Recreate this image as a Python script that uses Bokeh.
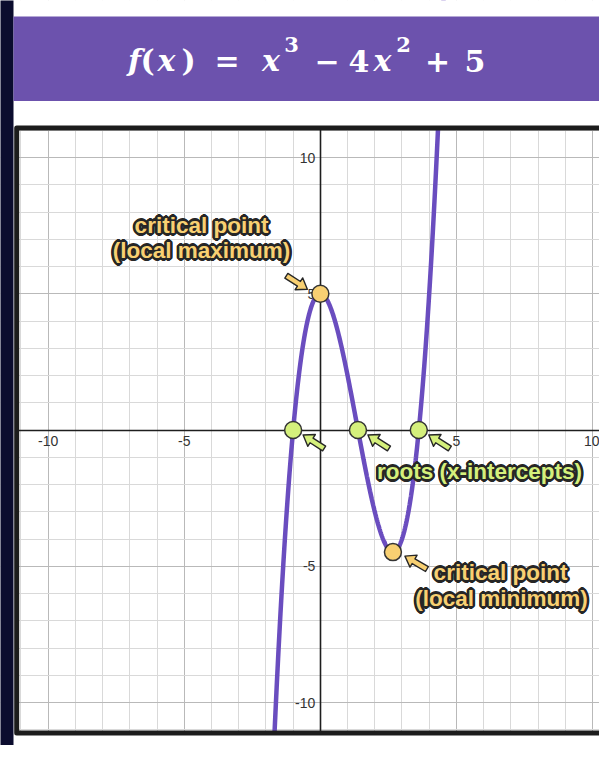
import math
import numpy as np
from bokeh.plotting import figure
from bokeh.models import Range1d, FixedTicker
from bokeh.core.properties import value
from bokeh.embed import file_html
from bokeh.resources import INLINE

# ---------------- chart content ----------------
poly_coeffs = [1, -4, 0, 5]            # f(x) = x^3 - 4x^2 + 5 (from the title)
curve_domain = [-2.0, 5.0]
root_x = [-1.0, 1.382, 3.618]
root_y = [0.0, 0.0, 0.0]
crit_x = [0.0, 2.667]
crit_y = [5.0, -4.481]
x_ticks = [-10, -5, 5, 10]
x_tick_labels = ["-10", "-5", "5", "10"]
y_ticks = [-10, -5, 5, 10]
y_tick_labels = ["-10", "-5", "5", "10"]
max_label = ["critical point", "(local maximum)"]
min_label = ["critical point", "(local minimum)"]
roots_label = ["roots (x-intercepts)"]
title_parts = ["f", "(", "x", ")", "=", "x", "3", "\u2212", "4", "x", "2", "+", "5"]

# ---------------- layout / styles ----------------
W, H = 599, 745
M = 8
X0, Y0 = 327.85, 437.5       # reference pixel of the origin
SX, SY = 27.215, 27.25       # pixels per unit


def fx(X):
    return (X - X0) / SX


def fy(Y):
    return (Y0 - Y) / SY


xs, xe = fx(M), fx(M + W)
ys, ye = fy(M + H), fy(M)

NAVY = "#0b0c2e"
PURPLE_BAND = "#6c52ad"
CURVE = "#6a4dbf"
YELLOW = "#f8d072"
GREEN = "#d5f07c"
DARK = "#262626"

CARD_LEFT = 21.0
BAND_TOP, BAND_BOT = 24.0, 108.5
BOX_LEFT, BOX_TOP, BOX_BOT = 24.2, 135.5, 740.5

p = figure(width=W, height=H, x_range=Range1d(xs, xe), y_range=Range1d(ys, ye),
           output_backend="svg", toolbar_location=None, min_border=0)
p.outline_line_color = None
p.background_fill_color = "white"
p.border_fill_color = "white"

# grid
minor = [i for i in range(-12, 12) if i % 5 != 0]
major = [-10, -5, 5, 10]
for g in (p.xgrid, p.ygrid):
    g.ticker = FixedTicker(ticks=major, minor_ticks=minor)
    g.grid_line_color = "#b9b9b9"
    g.grid_line_width = 1
    g.minor_grid_line_color = "#d9d9d9"
    g.minor_grid_line_width = 1
    g.level = "image"

# axes through the origin
for ax, ticks, labels in ((p.xaxis[0], x_ticks, x_tick_labels), (p.yaxis[0], y_ticks, y_tick_labels)):
    ax.fixed_location = 0
    ax.ticker = FixedTicker(ticks=ticks)
    ax.major_label_overrides = {t: s for t, s in zip(ticks, labels)}
    ax.axis_line_color = "#1e1e1e"
    ax.axis_line_width = 1.6
    ax.major_tick_in = 0
    ax.major_tick_out = 0
    ax.minor_tick_in = 0
    ax.minor_tick_out = 0
    ax.major_label_text_font = "Liberation Sans"
    ax.major_label_text_font_size = "14px"
    ax.major_label_text_color = "#333333"
    ax.level = "underlay"
p.xaxis[0].bounds = (fx(BOX_LEFT), xe + 1)
p.yaxis[0].bounds = (fy(BOX_BOT), fy(BOX_TOP))
p.xaxis[0].major_label_standoff = 6
p.yaxis[0].major_label_standoff = 5

# curve
cx = np.linspace(curve_domain[0], curve_domain[1], 800)
cy = np.polyval(poly_coeffs, cx)
p.line(cx, cy, line_color=CURVE, line_width=4.5, line_cap="round")

# card / masks outside the plot box
p.quad(left=[xs - 1], right=[xe + 1], bottom=[fy(BOX_TOP)], top=[ye + 1],
       fill_color="white", line_color=None)
p.quad(left=[xs - 1], right=[xe + 1], bottom=[ys - 1], top=[fy(BOX_BOT)],
       fill_color="white", line_color=None)
p.quad(left=[xs - 1], right=[fx(BOX_LEFT)], bottom=[ys - 1], top=[ye + 1],
       fill_color="white", line_color=None)
p.quad(left=[xs - 1], right=[fx(CARD_LEFT)], bottom=[ys - 1], top=[ye + 1],
       fill_color=NAVY, line_color=None)
p.quad(left=[fx(CARD_LEFT)], right=[xe + 1], bottom=[fy(BAND_BOT)], top=[fy(BAND_TOP)],
       fill_color=PURPLE_BAND, line_color=None)
p.quad(left=[fx(BOX_LEFT)], right=[xe + 1], bottom=[fy(BOX_BOT)], top=[fy(BOX_TOP)],
       fill_color=None, line_color="#1c1c1c", line_width=5, line_join="round")


# arrows (screen-pixel offsets from a point)
def arrow(x, y, tip, tail):
    X = X0 + x * SX
    Y = Y0 - y * SY
    tx, ty = X + tip[0], Y + tip[1]
    bx, by = X + tail[0], Y + tail[1]
    L = math.hypot(tx - bx, ty - by)
    ux, uy = (tx - bx) / L, (ty - by) / L
    vx, vy = -uy, ux
    HL, HW, SW = 10.0, 7.0, 2.8
    shape = [(0, 0), (-HL, HW), (-HL, SW), (-L, SW), (-L, -SW), (-HL, -SW), (-HL, -HW)]
    return ([fx(tx + a * ux + b * vx) for a, b in shape],
            [fy(ty + a * uy + b * vy) for a, b in shape])


axs, ays, acol = [], [], []
a = arrow(crit_x[0], crit_y[0], (-13, -4.5), (-34, -18))
axs.append(a[0]); ays.append(a[1]); acol.append(YELLOW)
a = arrow(crit_x[1], crit_y[1], (12, 4), (34, 17))
axs.append(a[0]); ays.append(a[1]); acol.append(YELLOW)
for rx, ry in zip(root_x, root_y):
    a = arrow(rx, ry, (10, 5), (31, 18.5))
    axs.append(a[0]); ays.append(a[1]); acol.append(GREEN)
p.patches(axs, ays, fill_color=acol, line_color=DARK, line_width=1.4, line_join="round")

# points
p.scatter(root_x, root_y, size=17, fill_color=GREEN, line_color="#333333", line_width=1.5)
p.scatter(crit_x, crit_y, size=17, fill_color=YELLOW, line_color="#333333", line_width=1.5)

# annotation labels with a thick dark outline (offset copies underneath)
lab_kw = dict(text_align="center", text_baseline="middle",
              text_font=value("Liberation Sans"), text_font_style="bold",
              text_font_size="22.5px")
groups = [
    ([fx(209), fx(209)], [fy(233), fy(258)], max_label, YELLOW),
    ([fx(508), fx(509)], [fy(580), fy(606)], min_label, YELLOW),
    ([fx(487)], [fy(479)], roots_label, GREEN),
]
R_OUT = 2.6
offsets = [(R_OUT * math.cos(k * math.pi / 6), R_OUT * math.sin(k * math.pi / 6)) for k in range(12)]
for gx, gy, gt, gc in groups:
    for dx, dy in offsets:
        p.text(x=gx, y=gy, text=gt, x_offset=dx, y_offset=dy, text_color=DARK, **lab_kw)
for gx, gy, gt, gc in groups:
    p.text(x=gx, y=gy, text=gt, text_color=gc, **lab_kw)

# title (math-style, composed)
title_center = [142, 155, 174, 196, 234.5, 278.5, 299, 334.5, 366.5, 390, 411, 445, 482.5]
title_italic = [True, False, True, False, False, True, False, False, False, True, False, False, False]
title_sup = [False, False, False, False, False, False, True, False, False, False, True, False, False]
for t, X, it, sup in zip(title_parts, title_center, title_italic, title_sup):
    p.text(x=[fx(X)], y=[fy(52 if sup else 68)], text=[t],
           text_align="center", text_baseline="middle",
           text_font=value("DejaVu Serif"), text_font_style="bold italic" if it else "bold",
           text_font_size="21px" if sup else "30px", text_color="white")

open("out.html", "w").write(file_html(p, INLINE))
